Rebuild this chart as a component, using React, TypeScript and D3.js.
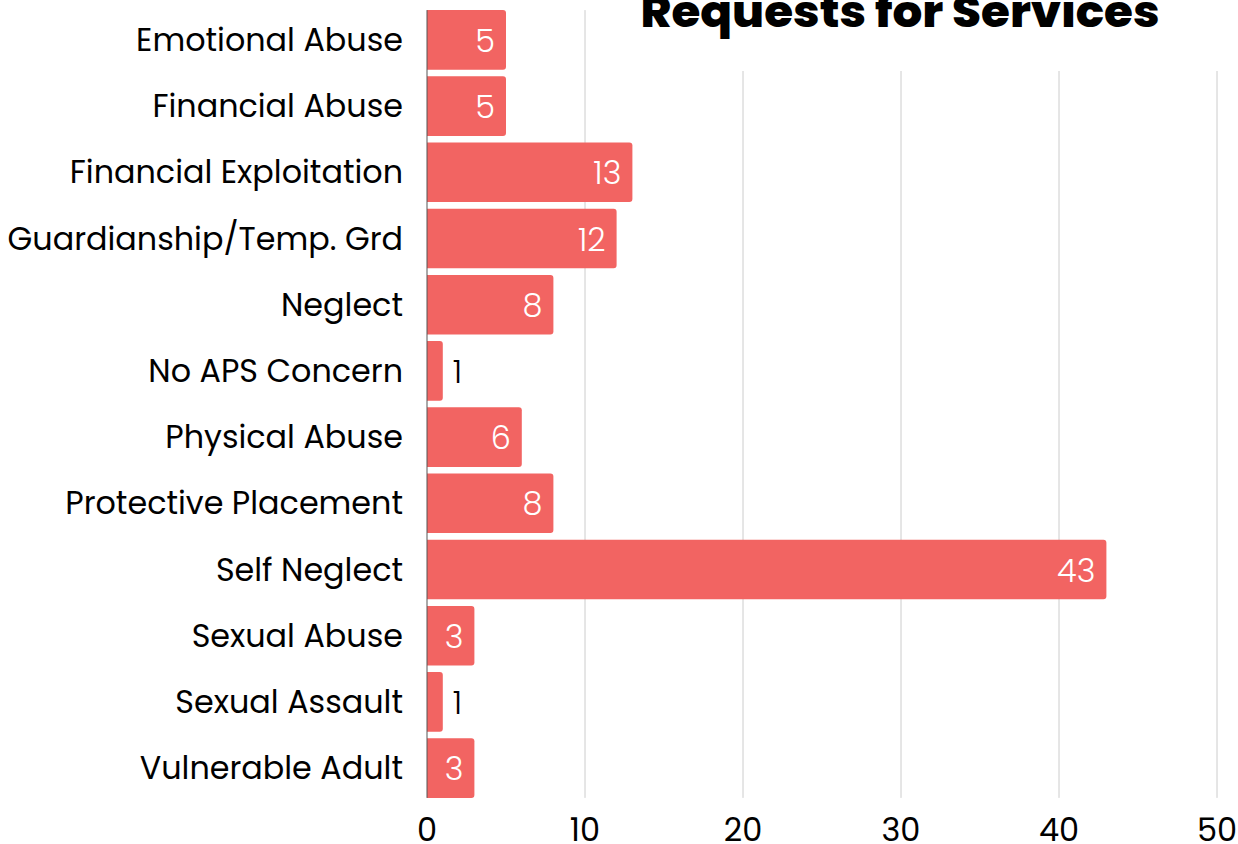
import React from "react";
import * as d3 from "d3";

const categories = [
  "Emotional Abuse",
  "Financial Abuse",
  "Financial Exploitation",
  "Guardianship/Temp. Grd",
  "Neglect",
  "No APS Concern",
  "Physical Abuse",
  "Protective Placement",
  "Self Neglect",
  "Sexual Abuse",
  "Sexual Assault",
  "Vulnerable Adult",
];
const values = [5, 5, 13, 12, 8, 1, 6, 8, 43, 3, 1, 3];
const xTicks = [0, 10, 20, 30, 40, 50];
const title = "Requests for Services";

const W = 1238;
const H = 844;
const FONT = "Poppins, 'Open Sans', sans-serif";

export default function App() {
  const x = d3.scaleLinear().domain([0, 50]).range([427, 1217]);
  const y = d3
    .scaleBand<string>()
    .domain(categories)
    .range([6.8, 801.2])
    .paddingInner(0.1)
    .paddingOuter(0.05);
  const gridTop = y(categories[0])!;
  const gridBottom = y(categories[categories.length - 1])! + y.bandwidth();
  const r = 3;

  const barPath = (v: number, cat: string) => {
    const x0 = x(0);
    const x1 = x(v);
    const y0 = y(cat)!;
    const h = y.bandwidth();
    const rr = Math.min(r, (x1 - x0) / 2);
    const p = d3.path();
    p.moveTo(x0, y0);
    p.lineTo(x1 - rr, y0);
    p.arcTo(x1, y0, x1, y0 + rr, rr);
    p.lineTo(x1, y0 + h - rr);
    p.arcTo(x1, y0 + h, x1 - rr, y0 + h, rr);
    p.lineTo(x0, y0 + h);
    p.closePath();
    return p.toString();
  };

  return (
    <svg
      width={W}
      height={H}
      style={{ position: "absolute", left: 0, top: 0, background: "#fff" }}
      fontFamily={FONT}
    >
      {/* grid */}
      {xTicks.slice(1).map((t) => (
        <line
          key={t}
          x1={x(t)}
          x2={x(t)}
          y1={gridTop}
          y2={gridBottom}
          stroke="#cccccc"
          strokeWidth={1}
        />
      ))}
      {/* title background */}
      <rect x={600} y={0} width={W - 600} height={71} fill="#fff" />
      <text
        x={900}
        y={27}
        textAnchor="middle"
        fontSize={44}
        fontWeight={800}
        fill="#000"
        textLength={519}
        lengthAdjust="spacingAndGlyphs"
      >
        {title}
      </text>
      {/* bars */}
      {categories.map((c, i) => (
        <path key={c} d={barPath(values[i], c)} fill="#f26462" />
      ))}
      {/* axis line */}
      <line x1={x(0)} x2={x(0)} y1={gridTop} y2={gridBottom} stroke="#555" strokeWidth={1} />
      {/* category labels */}
      {categories.map((c) => (
        <text
          key={c}
          x={403}
          y={y(c)! + y.bandwidth() / 2}
          dy="0.35em"
          textAnchor="end"
          fontSize={31.8}
          fill="#000"
        >
          {c}
        </text>
      ))}
      {/* value labels */}
      {categories.map((c, i) => {
        const v = values[i];
        const inside = x(v) - x(0) > 30;
        return (
          <text
            key={c}
            x={inside ? x(v) - 11 : x(v) + 10}
            y={y(c)! + y.bandwidth() / 2}
            dy="0.38em"
            textAnchor={inside ? "end" : "start"}
            fontSize={32}
            fontWeight={300}
            fill={inside ? "#fff" : "#000"}
          >
            {v}
          </text>
        );
      })}
      {/* x tick labels */}
      {xTicks.map((t) => (
        <text key={t} x={x(t)} y={841} textAnchor="middle" fontSize={32} fill="#000">
          {t}
        </text>
      ))}
    </svg>
  );
}
